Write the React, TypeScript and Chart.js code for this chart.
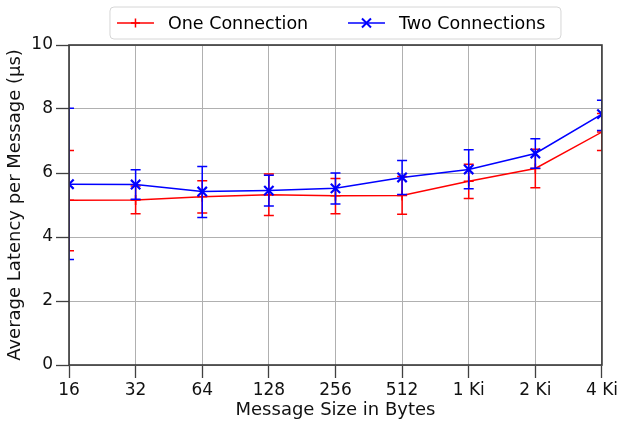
import React, { useEffect, useRef } from "react";
import { Chart, registerables } from "chart.js";

Chart.register(...registerables);

const categories = ["16", "32", "64", "128", "256", "512", "1 Ki", "2 Ki", "4 Ki"];
const seriesNames = ["One Connection", "Two Connections"];
const oneMean = [5.15, 5.16, 5.26, 5.32, 5.29, 5.3, 5.74, 6.14, 7.28];
const oneLow = [3.57, 4.73, 4.75, 4.67, 4.73, 4.71, 5.2, 5.54, 6.7];
const oneHigh = [6.7, 5.59, 5.76, 5.97, 5.83, 5.89, 6.27, 6.74, 7.86];
const twoMean = [5.65, 5.64, 5.42, 5.45, 5.52, 5.86, 6.11, 6.61, 7.84];
const twoLow = [3.3, 5.18, 4.61, 4.97, 5.03, 5.33, 5.51, 6.15, 7.33];
const twoHigh = [8.02, 6.1, 6.2, 5.93, 6.0, 6.39, 6.73, 7.07, 8.27];
const yTicks = [0, 2, 4, 6, 8, 10];

const RED = "#ff0000";
const BLUE = "#0000ff";
const FONT = '"DejaVu Sans", sans-serif';

const errLows = [oneLow, twoLow];
const errHighs = [oneHigh, twoHigh];
const colors = [RED, BLUE];

const errorBarPlugin = {
  id: "errorBars",
  beforeDatasetDraw(chart: any, args: any) {
    const i = args.index;
    const meta = chart.getDatasetMeta(i);
    const ys = chart.scales.y;
    const ca = chart.chartArea;
    const ctx = chart.ctx;
    ctx.save();
    ctx.beginPath();
    ctx.rect(ca.left, ca.top, ca.right - ca.left, ca.bottom - ca.top);
    ctx.clip();
    ctx.strokeStyle = colors[i];
    ctx.lineWidth = 1.5;
    meta.data.forEach((pt: any, k: number) => {
      const x = pt.x;
      const yl = ys.getPixelForValue(errLows[i][k]);
      const yh = ys.getPixelForValue(errHighs[i][k]);
      ctx.beginPath();
      ctx.moveTo(x, yl);
      ctx.lineTo(x, yh);
      ctx.moveTo(x - 5, yl);
      ctx.lineTo(x + 5, yl);
      ctx.moveTo(x - 5, yh);
      ctx.lineTo(x + 5, yh);
      ctx.stroke();
    });
    ctx.restore();
  },
};

const frameLegendPlugin = {
  id: "frameLegend",
  afterDraw(chart: any) {
    const ctx = chart.ctx;
    const ca = chart.chartArea;
    ctx.save();
    // spines
    ctx.strokeStyle = "#383838";
    ctx.lineWidth = 1.6;
    ctx.strokeRect(ca.left, ca.top, ca.right - ca.left, ca.bottom - ca.top);

    // legend
    ctx.font = "17.5px " + FONT;
    const boxW = 451;
    const cx = (ca.left + ca.right) / 2;
    const x0 = cx - boxW / 2;
    const y0 = 7, h = 32, r = 4;
    ctx.beginPath();
    ctx.moveTo(x0 + r, y0);
    ctx.lineTo(x0 + boxW - r, y0);
    ctx.quadraticCurveTo(x0 + boxW, y0, x0 + boxW, y0 + r);
    ctx.lineTo(x0 + boxW, y0 + h - r);
    ctx.quadraticCurveTo(x0 + boxW, y0 + h, x0 + boxW - r, y0 + h);
    ctx.lineTo(x0 + r, y0 + h);
    ctx.quadraticCurveTo(x0, y0 + h, x0, y0 + h - r);
    ctx.lineTo(x0, y0 + r);
    ctx.quadraticCurveTo(x0, y0, x0 + r, y0);
    ctx.closePath();
    ctx.fillStyle = "rgba(255,255,255,0.8)";
    ctx.fill();
    ctx.strokeStyle = "#d6d6d6";
    ctx.lineWidth = 1;
    ctx.stroke();

    const handle = 37;
    const ly = y0 + h / 2;
    const drawEntry = (sx: number, color: string, name: string, kind: string) => {
      ctx.strokeStyle = color;
      ctx.lineWidth = 1.5;
      ctx.beginPath();
      ctx.moveTo(sx, ly);
      ctx.lineTo(sx + handle, ly);
      ctx.stroke();
      const mx = sx + handle / 2;
      ctx.beginPath();
      if (kind === "plus") {
        ctx.lineWidth = 1.5;
        ctx.moveTo(mx - 4.5, ly);
        ctx.lineTo(mx + 4.5, ly);
        ctx.moveTo(mx, ly - 4.5);
        ctx.lineTo(mx, ly + 4.5);
      } else {
        ctx.lineWidth = 2;
        ctx.moveTo(mx - 4.5, ly - 4.5);
        ctx.lineTo(mx + 4.5, ly + 4.5);
        ctx.moveTo(mx - 4.5, ly + 4.5);
        ctx.lineTo(mx + 4.5, ly - 4.5);
      }
      ctx.stroke();
      ctx.fillStyle = "#000";
      ctx.textBaseline = "middle";
      ctx.textAlign = "left";
      ctx.fillText(name, sx + handle + 14, ly + 1);
    };
    drawEntry(x0 + 7, RED, seriesNames[0], "plus");
    drawEntry(x0 + 238, BLUE, seriesNames[1], "x");
    ctx.restore();
  },
};

export default function App() {
  const ref = useRef<HTMLCanvasElement | null>(null);
  useEffect(() => {
    if (!ref.current) return;
    Chart.defaults.font.family = FONT;
    const chart = new Chart(ref.current, {
      type: "line",
      data: {
        labels: categories,
        datasets: [
          {
            label: seriesNames[0],
            data: oneMean,
            borderColor: RED,
            backgroundColor: RED,
            borderWidth: 1.5,
            pointStyle: "cross",
            pointRadius: 5,
            pointBorderWidth: 1.6,
            pointBorderColor: RED,
            tension: 0,
            clip: 0,
            order: 2,
          },
          {
            label: seriesNames[1],
            data: twoMean,
            borderColor: BLUE,
            backgroundColor: BLUE,
            borderWidth: 1.5,
            pointStyle: "crossRot",
            pointRadius: 6.6,
            pointBorderWidth: 2.2,
            pointBorderColor: BLUE,
            tension: 0,
            clip: 0,
            order: 1,
          },
        ],
      },
      options: {
        responsive: false,
        devicePixelRatio: 1,
        animation: false,
        layout: { padding: { top: 45, right: 16, left: 0, bottom: 0 } },
        plugins: {
          legend: { display: false },
          tooltip: { enabled: false },
        },
        scales: {
          x: {
            type: "category",
            offset: false,
            afterFit: (s: any) => {
              s.height = 58;
            },
            grid: {
              color: "#b0b0b0",
              lineWidth: 1,
              tickLength: 13,
              tickColor: "#404040",
              tickWidth: 1.3,
              offset: false,
            },
            border: { display: false },
            ticks: {
              color: "#111",
              font: { size: 17, family: FONT },
              padding: 2,
              maxRotation: 0,
              autoSkip: false,
            },
            title: {
              display: true,
              text: "Message Size in Bytes",
              color: "#111",
              font: { size: 18, family: FONT },
              padding: { top: 0, bottom: 2 },
            },
          },
          y: {
            min: 0,
            max: 10,
            afterFit: (s: any) => {
              s.width = 69;
            },
            afterBuildTicks: (s: any) => {
              s.ticks = yTicks.map((v) => ({ value: v }));
            },
            grid: {
              color: "#b0b0b0",
              lineWidth: 1,
              tickLength: 13,
              tickColor: "#404040",
              tickWidth: 1.3,
            },
            border: { display: false },
            ticks: {
              color: "#111",
              font: { size: 17, family: FONT },
              padding: 3,
            },
            title: {
              display: true,
              text: "Average Latency per Message (µs)",
              color: "#111",
              font: { size: 18, family: FONT },
              padding: { top: 5, bottom: 0 },
            },
          },
        },
      },
      plugins: [errorBarPlugin, frameLegendPlugin],
    } as any);
    return () => chart.destroy();
  }, []);
  return (
    <div style={{ position: "absolute", left: 0, top: 0, width: 620, height: 423, background: "#fff" }}>
      <canvas ref={ref} width={620} height={423} />
    </div>
  );
}
